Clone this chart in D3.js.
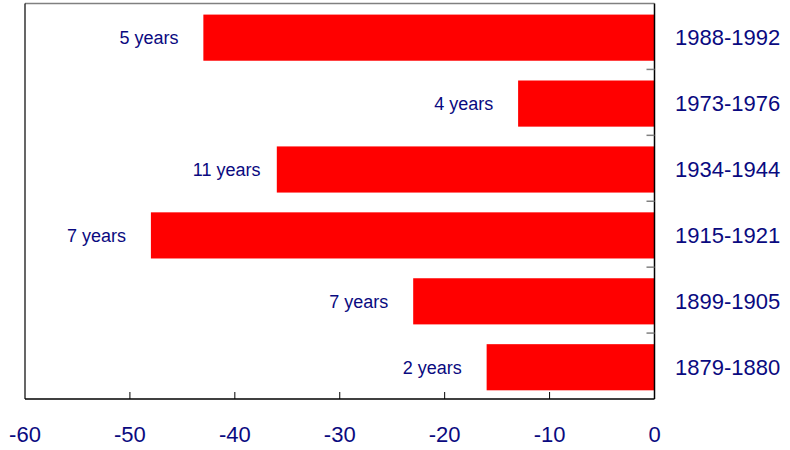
<!DOCTYPE html>
<html><head><meta charset="utf-8">
<script src="https://cdn.jsdelivr.net/npm/d3@7"></script>
<style>body{margin:0;background:#fff}svg{display:block}text{font-family:Arial,"Liberation Sans",sans-serif}</style>
</head><body><svg id="c" width="790" height="450"></svg>
<script>
const periods = ["1988-1992","1973-1976","1934-1944","1915-1921","1899-1905","1879-1880"];
const declines = [-43,-13,-36,-48,-23,-16];
const durations = ["5 years","4 years","11 years","7 years","7 years","2 years"];
const xTicks = [-60,-50,-40,-30,-20,-10,0];

const svg = d3.select("#c");
const L = 25, R = 654.5, T = 3.5, B = 399;
const x = d3.scaleLinear().domain([-60,0]).range([L,R]);
const y = d3.scaleBand().domain(periods).range([T+1.2, B+1.2]).paddingInner(0.3).paddingOuter(0.15);
const step = y.step();
const navy = "#0a0a80";

svg.append("g").selectAll("rect").data(periods).join("rect")
  .attr("x", (d,i)=>x(declines[i])).attr("width",(d,i)=>x(0)-x(declines[i]))
  .attr("y", d=>y(d)).attr("height", y.bandwidth()).attr("fill","#ff0000");

// frame
svg.append("line").attr("x1",L).attr("x2",R).attr("y1",T).attr("y2",T).attr("stroke","#808080").attr("stroke-width",1.5);
svg.append("line").attr("x1",L).attr("x2",L).attr("y1",T).attr("y2",B).attr("stroke","#000").attr("stroke-width",1.2);
svg.append("line").attr("x1",L).attr("x2",R).attr("y1",B).attr("y2",B).attr("stroke","#000").attr("stroke-width",1.5);
svg.append("line").attr("x1",R).attr("x2",R).attr("y1",T).attr("y2",B).attr("stroke","#000").attr("stroke-width",1.5);

// right axis ticks at band boundaries (inward, gray)
const bounds = periods.slice(1).map(d => y(d) - step*0.15 - 1.2);
svg.append("g").selectAll("line").data(bounds).join("line")
  .attr("x1",R-8).attr("x2",R).attr("y1",d=>d).attr("y2",d=>d)
  .attr("stroke","#808080").attr("stroke-width",1.5);

// bottom ticks (inward)
svg.append("g").selectAll("line").data(xTicks.slice(1,-1)).join("line")
  .attr("x1",d=>x(d)).attr("x2",d=>x(d)).attr("y1",B-7).attr("y2",B)
  .attr("stroke","#000").attr("stroke-width",1);

svg.append("g").selectAll("text").data(xTicks).join("text")
  .attr("x",d=>x(d)).attr("y",442).attr("text-anchor","middle")
  .attr("font-size",22).attr("fill",navy).text(d=>d);

svg.append("g").selectAll("text").data(periods).join("text")
  .attr("x",675).attr("y",d=>y(d)+y.bandwidth()/2).attr("dy","0.35em")
  .attr("font-size",22).attr("fill",navy).text(d=>d);

svg.append("g").selectAll("text").data(durations).join("text")
  .attr("x",(d,i)=>x(declines[i]-8)).attr("y",(d,i)=>y(periods[i])+y.bandwidth()/2).attr("dy","0.35em")
  .attr("font-size",18).attr("fill",navy).text(d=>d);
</script></body></html>
